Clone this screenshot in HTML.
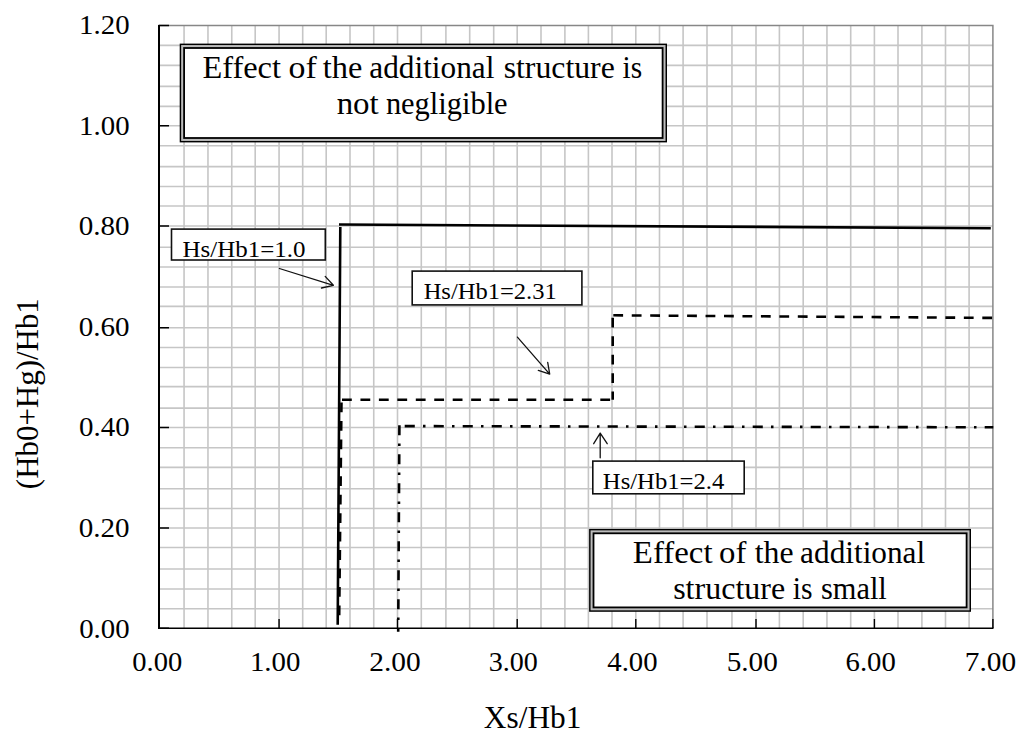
<!DOCTYPE html>
<html><head><meta charset="utf-8"><style>
html,body{margin:0;padding:0;background:#fff;}
svg{display:block;}
text{fill:#000;}
</style></head><body>
<svg width="1024" height="743" viewBox="0 0 1024 743">
<path d="M184.06 25.6V628 M207.97 25.6V628 M231.76 25.6V628 M255.20 25.6V628 M279.06 25.6V628 M302.70 25.6V628 M326.20 25.6V628 M350.00 25.6V628 M373.75 25.6V628 M397.50 25.6V628 M421.30 25.6V628 M445.90 25.6V628 M469.70 25.6V628 M493.70 25.6V628 M517.20 25.6V628 M541.00 25.6V628 M564.90 25.6V628 M588.40 25.6V628 M612.00 25.6V628 M635.80 25.6V628 M659.50 25.6V628 M683.10 25.6V628 M707.00 25.6V628 M731.95 25.6V628 M756.00 25.6V628 M779.40 25.6V628 M803.20 25.6V628 M826.95 25.6V628 M850.70 25.6V628 M874.40 25.6V628 M898.00 25.6V628 M921.90 25.6V628 M945.50 25.6V628 M969.10 25.6V628 M159 45.40H993 M159 65.40H993 M159 86.40H993 M159 106.40H993 M159 125.75H993 M159 145.70H993 M159 166.60H993 M159 186.55H993 M159 206.06H993 M159 226.00H993 M159 247.20H993 M159 267.00H993 M159 287.00H993 M159 306.35H993 M159 327.70H993 M159 347.50H993 M159 367.50H993 M159 386.66H993 M159 408.10H993 M159 427.50H993 M159 447.80H993 M159 467.40H993 M159 488.70H993 M159 508.45H993 M159 528.07H993 M159 547.45H993 M159 569.00H993 M159 589.00H993 M159 608.75H993" stroke="#c6c6c6" stroke-width="1.6" fill="none"/>
<path d="M158 25.6H992.9V628" stroke="#878787" stroke-width="1.5" fill="none"/>
<path d="M159 25.45H169 M159 125.75H169 M159 226.00H169 M159 327.70H169 M159 427.50H169 M159 528.07H169 M159 628.10H169 M279.06 628V619 M397.50 628V619 M517.20 628V619 M635.80 628V619 M756.00 628V619 M874.40 628V619 M992.90 628V619" stroke="#000" stroke-width="1.4" fill="none"/>
<path d="M159 25V629" stroke="#000" stroke-width="2" fill="none"/>
<path d="M158 628.3H993.5" stroke="#000" stroke-width="1.5" fill="none"/>
<path d="M337.7 624.7L340.3 227.0M339.0 224.5L990.8 228.2" stroke="#000" stroke-width="2.6" fill="none"/>
<path d="M341.5 399.75L339.2 615.5" stroke="#000" stroke-width="2.6" fill="none" stroke-dasharray="9.8 8.65" stroke-dashoffset="15.70"/>
<path d="M341.5 399.75L612.7 399.75" stroke="#000" stroke-width="2.6" fill="none" stroke-dasharray="9.8 8.65" stroke-dashoffset="17.95"/>
<path d="M612.7 315.3L612.7 399.75" stroke="#000" stroke-width="2.6" fill="none" stroke-dasharray="9.8 8.65" stroke-dashoffset="15.95"/>
<path d="M612.7 315.3L992.7 317.9" stroke="#000" stroke-width="2.6" fill="none" stroke-dasharray="9.8 8.65" stroke-dashoffset="17.85"/>
<path d="M993.3 427.3L399.4 426.1" stroke="#000" stroke-width="2.6" fill="none" stroke-dasharray="10.1 8.2 2.5 8.2" stroke-dashoffset="1.50"/>
<path d="M399.4 425.2L398.2 631.7" stroke="#000" stroke-width="2.6" fill="none" stroke-dasharray="10.1 8.2 2.5 8.2" stroke-dashoffset="0.00"/>
<rect x="179.7" y="43.6" width="487.30" height="98.80" fill="#000"/><rect x="181.15" y="45.05" width="484.40" height="95.90" fill="#bcbcbc"/><rect x="183.20" y="47.10" width="480.30" height="91.80" fill="#000"/><rect x="185.00" y="48.90" width="476.70" height="88.20" fill="#fff"/>
<rect x="589.1" y="528.9" width="381.90" height="82.90" fill="#000"/><rect x="590.55" y="530.35" width="379.00" height="80.00" fill="#bcbcbc"/><rect x="592.60" y="532.40" width="374.90" height="75.90" fill="#000"/><rect x="594.40" y="534.20" width="371.30" height="72.30" fill="#fff"/>
<rect x="171.50" y="229.10" width="153.80" height="30.90" fill="#fff" stroke="#111" stroke-width="1.6"/>
<rect x="412.20" y="271.10" width="169.70" height="33.80" fill="#fff" stroke="#111" stroke-width="1.6"/>
<rect x="592.80" y="461.10" width="151.40" height="32.70" fill="#fff" stroke="#111" stroke-width="1.6"/>
<text transform="translate(202.39 77.5) scale(1.0131 1)" font-family="Liberation Serif, serif" font-size="32">Effect</text>
<text transform="translate(288.48 77.5) scale(1.0588 1)" font-family="Liberation Serif, serif" font-size="32">of</text>
<text transform="translate(322.85 77.5) scale(1.0119 1)" font-family="Liberation Serif, serif" font-size="32">the</text>
<text transform="translate(369.32 77.5) scale(0.9774 1)" font-family="Liberation Serif, serif" font-size="32">additional</text>
<text transform="translate(503.66 77.5) scale(0.9927 1)" font-family="Liberation Serif, serif" font-size="32">structure</text>
<text transform="translate(622.61 77.5) scale(0.9179 1)" font-family="Liberation Serif, serif" font-size="32">is</text>
<text transform="translate(336.63 114.4) scale(1.0300 1)" font-family="Liberation Serif, serif" font-size="32">not</text>
<text transform="translate(385.89 114.4) scale(0.9516 1)" font-family="Liberation Serif, serif" font-size="32">negligible</text>
<text transform="translate(632.87 563.0) scale(1.0275 1)" font-family="Liberation Serif, serif" font-size="32">Effect</text>
<text transform="translate(719.02 563.0) scale(1.0235 1)" font-family="Liberation Serif, serif" font-size="32">of</text>
<text transform="translate(754.75 563.0) scale(0.9934 1)" font-family="Liberation Serif, serif" font-size="32">the</text>
<text transform="translate(800.12 563.0) scale(0.9774 1)" font-family="Liberation Serif, serif" font-size="32">additional</text>
<text transform="translate(673.15 599.0) scale(1.0009 1)" font-family="Liberation Serif, serif" font-size="32">structure</text>
<text transform="translate(792.81 599.0) scale(0.9231 1)" font-family="Liberation Serif, serif" font-size="32">is</text>
<text transform="translate(821.01 599.0) scale(0.9496 1)" font-family="Liberation Serif, serif" font-size="32">small</text>
<text transform="translate(182.52 257.0) scale(1.0403 1)" font-family="Liberation Serif, serif" font-size="24">Hs/Hb1=1.0</text>
<text transform="translate(423.63 299.3) scale(1.0227 1)" font-family="Liberation Serif, serif" font-size="24">Hs/Hb1=2.31</text>
<text transform="translate(602.83 488.9) scale(1.0274 1)" font-family="Liberation Serif, serif" font-size="24">Hs/Hb1=2.4</text>
<text transform="translate(483.87 727.7) scale(0.9794 1)" font-family="Liberation Serif, serif" font-size="32">Xs/Hb1</text>
<text transform="translate(79.12 34.1) scale(1.0308 1)" font-family="Liberation Serif, serif" font-size="28">1.20</text>
<text transform="translate(79.12 134.6) scale(1.0308 1)" font-family="Liberation Serif, serif" font-size="28">1.00</text>
<text transform="translate(78.76 234.5) scale(1.0383 1)" font-family="Liberation Serif, serif" font-size="28">0.80</text>
<text transform="translate(78.76 335.9) scale(1.0383 1)" font-family="Liberation Serif, serif" font-size="28">0.60</text>
<text transform="translate(78.97 436.3) scale(1.0340 1)" font-family="Liberation Serif, serif" font-size="28">0.40</text>
<text transform="translate(78.76 536.6) scale(1.0383 1)" font-family="Liberation Serif, serif" font-size="28">0.20</text>
<text transform="translate(79.17 637.5) scale(1.0298 1)" font-family="Liberation Serif, serif" font-size="28">0.00</text>
<text transform="translate(132.28 670.6) scale(1.0202 1)" font-family="Liberation Serif, serif" font-size="28">0.00</text>
<text transform="translate(249.92 670.6) scale(1.0308 1)" font-family="Liberation Serif, serif" font-size="28">1.00</text>
<text transform="translate(369.29 670.6) scale(1.0503 1)" font-family="Liberation Serif, serif" font-size="28">2.00</text>
<text transform="translate(488.75 670.6) scale(1.0032 1)" font-family="Liberation Serif, serif" font-size="28">3.00</text>
<text transform="translate(607.29 670.6) scale(1.0274 1)" font-family="Liberation Serif, serif" font-size="28">4.00</text>
<text transform="translate(726.67 670.6) scale(1.0443 1)" font-family="Liberation Serif, serif" font-size="28">5.00</text>
<text transform="translate(845.52 670.6) scale(1.0267 1)" font-family="Liberation Serif, serif" font-size="28">6.00</text>
<text transform="translate(964.86 670.6) scale(1.0486 1)" font-family="Liberation Serif, serif" font-size="28">7.00</text>
<text transform="translate(38.0 489.15) rotate(-90) scale(0.9668 1)" font-family="Liberation Serif, serif" font-size="32">(Hb0+Hg)/Hb1</text>
<path d="M279.4 268.5L333.4 285.3M325.2 276.4L333.4 285.3L321.5 288" stroke="#111" stroke-width="1.3" fill="none" stroke-linecap="round" stroke-linejoin="round"/>
<path d="M517.4 337.1L549.7 374.1M547.7 362.3L549.7 374.1L538.3 370.4" stroke="#111" stroke-width="1.3" fill="none" stroke-linecap="round" stroke-linejoin="round"/>
<path d="M600.2 457.8V433.2M593.7 443.7L600.2 433.2L607.2 443.7" stroke="#111" stroke-width="1.3" fill="none" stroke-linecap="round" stroke-linejoin="round"/>
</svg>
</body></html>
